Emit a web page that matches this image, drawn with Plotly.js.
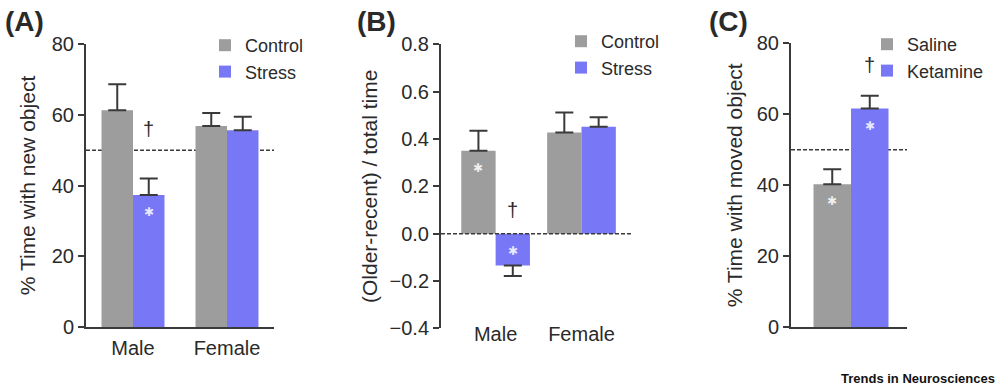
<!DOCTYPE html>
<html>
<head>
<meta charset="utf-8">
<script src="https://cdn.plot.ly/plotly-3.0.1.min.js"></script>
<style>html,body{margin:0;padding:0;background:#fff;}#chart{width:1000px;height:391px;}</style>
</head>
<body>
<div id="chart"></div>
<script>
// ---------- DATA ----------
// Panel A: % time with new object
const aGroups = ["Male", "Female"];
const aControl = [61.3, 56.8];
const aControlErr = [7.3, 3.7];
const aStress = [37.3, 55.6];
const aStressErr = [4.7, 3.8];
const aChance = 50;
const aStarBars = [["Male", "Stress"]];
const aDaggers = [["Male", "Stress", 56]];

// Panel B: (Older-recent) / total time
const bGroups = ["Male", "Female"];
const bControl = [0.35, 0.427];
const bControlErr = [0.085, 0.085];
const bStress = [-0.135, 0.452];
const bStressErr = [0.044, 0.04];
const bChance = 0;
const bStarBars = [["Male", "Control"], ["Male", "Stress"]];
const bDaggers = [["Male", "Stress", 0.10]];

// Panel C: % time with moved object
const cGroups = ["Test"];
const cSaline = [40.3];
const cSalineErr = [4.2];
const cKetamine = [61.6];
const cKetamineErr = [3.6];
const cChance = 50;
const cStarBars = [["Test", "Saline"], ["Test", "Ketamine"]];
const cDaggers = [["Test", "Ketamine", 74]];

const seriesAB = ["Control", "Stress"];
const seriesC = ["Saline", "Ketamine"];
const aTicks = [0, 20, 40, 60, 80];
const bTicks = [-0.4, -0.2, 0.0, 0.2, 0.4, 0.6, 0.8];
const cTicks = [0, 20, 40, 60, 80];

// ---------- STYLE ----------
const GRAY = "#9d9d9d";
const BLUE = "#7878f7";
const INK = "#2a2a2a";
const AX = "#3a3a3a";
const FONT = "Liberation Sans, Arial, Helvetica, sans-serif";

function errs(vals, e) {
  return {
    type: "data", symmetric: false,
    array: vals.map((v, i) => v >= 0 ? e[i] : 0),
    arrayminus: vals.map((v, i) => v < 0 ? e[i] : 0),
    color: AX, thickness: 2, width: 9
  };
}
function barTrace(name, groups, vals, e, color, w, first, xa, ya, leg) {
  return {
    type: "bar", name: name, x: groups, y: vals,
    width: groups.map(() => w), offset: groups.map(() => first ? -w : 0),
    marker: {color: color, line: {width: 0}},
    error_y: errs(vals, e), xaxis: xa, yaxis: ya, legend: leg,
    hoverinfo: "skip"
  };
}
const wA = 0.335, wB = 0.40, wC = 0.375;

const traces = [
  barTrace(seriesAB[0], aGroups, aControl, aControlErr, GRAY, wA, true, "x", "y", "legend"),
  barTrace(seriesAB[1], aGroups, aStress, aStressErr, BLUE, wA, false, "x", "y", "legend"),
  barTrace(seriesAB[0], bGroups, bControl, bControlErr, GRAY, wB, true, "x2", "y2", "legend2"),
  barTrace(seriesAB[1], bGroups, bStress, bStressErr, BLUE, wB, false, "x2", "y2", "legend2"),
  barTrace(seriesC[0], cGroups, cSaline, cSalineErr, GRAY, wC, true, "x3", "y3", "legend3"),
  barTrace(seriesC[1], cGroups, cKetamine, cKetamineErr, BLUE, wC, false, "x3", "y3", "legend3")
];

// significance annotations
const annotations = [];
function addMarks(stars, daggers, groups, series, valsBySeries, w, xr, yr) {
  stars.forEach(([g, s]) => {
    const gi = groups.indexOf(g), si = series.indexOf(s);
    const v = valsBySeries[si][gi];
    annotations.push({
      xref: xr, yref: yr, x: gi + (si === 0 ? -w / 2 : w / 2), y: Math.max(v, 0),
      yshift: -17, text: "\u2731", showarrow: false,
      font: {family: "DejaVu Sans", size: 12, color: "rgba(255,255,255,0.85)"}
    });
  });
  daggers.forEach(([g, s, y]) => {
    const gi = groups.indexOf(g), si = series.indexOf(s);
    annotations.push({
      xref: xr, yref: yr, x: gi + (si === 0 ? -w / 2 : w / 2), y: y,
      text: "\u2020", showarrow: false,
      font: {family: FONT, size: 20, color: INK}
    });
  });
}
addMarks(aStarBars, aDaggers, aGroups, seriesAB, [aControl, aStress], wA, "x", "y");
addMarks(bStarBars, bDaggers, bGroups, seriesAB, [bControl, bStress], wB, "x2", "y2");
addMarks(cStarBars, cDaggers, cGroups, seriesC, [cSaline, cKetamine], wC, "x3", "y3");

// panel labels
[["(A)", 24], ["(B)", 376], ["(C)", 728]].forEach(([t, px]) => {
  annotations.push({xref: "paper", yref: "paper", x: px / 1000, y: 1 - 22 / 391,
    xanchor: "center", yanchor: "middle", text: "<b>" + t + "</b>", showarrow: false,
    font: {family: FONT, size: 28, color: INK}});
});
annotations.push({xref: "paper", yref: "paper", x: 0.997, y: 1 - 378 / 391,
  xanchor: "right", yanchor: "middle", text: "<b>Trends in Neurosciences</b>", showarrow: false,
  font: {family: FONT, size: 13, color: "#111"}});

function py(p) { return 1 - p / 391; }
function yAxis(dom, range, ticks, title, anchor, standoff, fmt) {
  return {
    domain: dom, range: range, tickvals: ticks, tickformat: fmt, anchor: anchor,
    showline: true, linecolor: AX, linewidth: 2,
    ticks: "outside", ticklen: 6, tickwidth: 2, tickcolor: AX,
    showgrid: false, zeroline: false, fixedrange: true,
    tickfont: {family: FONT, size: 20, color: INK},
    title: {text: title, font: {family: FONT, size: 21, color: INK}, standoff: standoff}
  };
}
function xAxis(dom, range, anchor, showline, showlabels, standoff) {
  return {
    domain: dom, range: range, type: "category", anchor: anchor,
    showline: showline, linecolor: AX, linewidth: 2, ticks: "",
    showgrid: false, zeroline: false, fixedrange: true,
    showticklabels: showlabels, ticklabelstandoff: standoff,
    tickfont: {family: FONT, size: 20, color: INK}
  };
}
function legendAt(xpx, ypx) {
  return {x: xpx / 1000, y: py(ypx), xanchor: "left", yanchor: "top",
    bgcolor: "rgba(0,0,0,0)", borderwidth: 0, itemwidth: 30,
    font: {family: FONT, size: 18, color: INK}, tracegroupgap: 0, traceorder: "normal"};
}

const layout = {
  width: 1000, height: 391,
  margin: {l: 0, r: 0, t: 0, b: 0},
  paper_bgcolor: "#fff", plot_bgcolor: "rgba(0,0,0,0)",
  barmode: "overlay", showlegend: true,
  xaxis: xAxis([0.086, 0.274], [-0.5, 1.5], "y", true, true, 2),
  yaxis: yAxis([py(327), py(44)], [0, 80], aTicks, "% Time with new object", "x", 10),
  xaxis2: xAxis([0.441, 0.633], [-0.636, 1.6], "y2", false, true, -8),
  yaxis2: yAxis([py(328.3), py(44.3)], [-0.4, 0.8], bTicks, "(Older-recent) / total time", "x2", 6, ".1f"),
  xaxis3: xAxis([0.791, 0.907], [-0.60, 0.56], "y3", true, false, 0),
  yaxis3: yAxis([py(327.3), py(43.3)], [0, 80], cTicks, "% Time with moved object", "x3", 8),
  legend: legendAt(205, 27),
  legend2: legendAt(561, 23),
  legend3: legendAt(867, 26),
  shapes: [
    {type: "line", xref: "x domain", yref: "y", x0: 0, x1: 1, y0: aChance, y1: aChance, layer: "below",
      line: {color: AX, width: 1.5, dash: "4px,2px"}},
    {type: "line", xref: "x2 domain", yref: "y2", x0: 0, x1: 1, y0: bChance, y1: bChance, layer: "above",
      line: {color: AX, width: 1.5, dash: "4px,2px"}},
    {type: "line", xref: "x3 domain", yref: "y3", x0: 0, x1: 1, y0: cChance, y1: cChance, layer: "below",
      line: {color: AX, width: 1.5, dash: "4px,2px"}}
  ],
  annotations: annotations,
  font: {family: FONT, color: INK}
};

Plotly.newPlot("chart", traces, layout, {displayModeBar: false, staticPlot: true});
</script>
</body>
</html>
